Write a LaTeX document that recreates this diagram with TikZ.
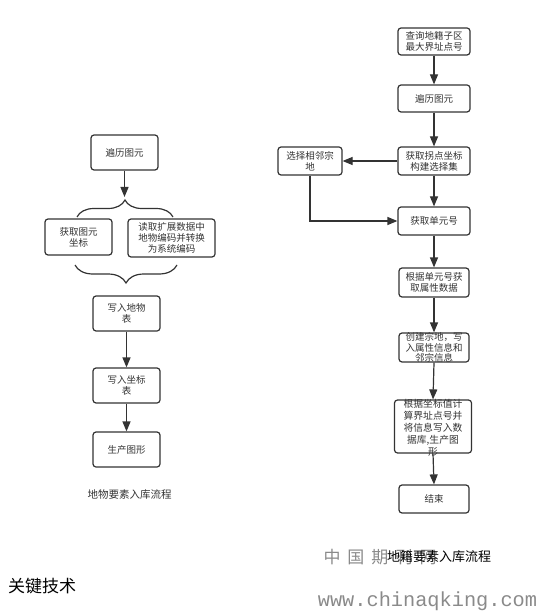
\documentclass[tikz,border=0pt]{standalone}
\usepackage{fontspec}
\setmainfont{Noto Sans CJK SC}
\newfontfamily\monofam{Liberation Mono}
\usetikzlibrary{arrows.meta,decorations.pathreplacing}
\definecolor{ln}{HTML}{333333}
\definecolor{wm}{HTML}{8A8A8A}
\begin{document}
\begin{tikzpicture}[x=1pt,y=-1pt,
  box/.style={draw=ln,line width=1.2pt,rounded corners=3pt,align=center,inner sep=1pt,
    font=\fontsize{9.5}{11}\selectfont,text=ln},
  ovtext/.style={align=center,text width=62pt,text=ln,inner sep=0pt},
  arr/.style={draw=ln,line width=1.2pt,-{Triangle[length=10pt,width=8pt]}},
  brc/.style={draw=ln,line width=1.2pt,decorate,decoration={brace,amplitude=#1}},
]
\useasboundingbox (0,0) rectangle (546,612);
% left column
\node[box,minimum width=67pt,minimum height=35pt] (L1) at (124.5,152.5) {遍历图元};
\node[box,minimum width=67pt,minimum height=36pt] (L2a) at (78.5,237) {获取图元\\坐标};
\node[box,minimum width=87pt,minimum height=38pt] (L2b) at (171.5,238) {读取扩展数据中\\地物编码并转换\\为系统编码};
\node[box,minimum width=67pt,minimum height=35pt] (L3) at (126.5,313.5) {写入地物\\表};
\node[box,minimum width=67pt,minimum height=35pt] (L4) at (126.5,385.5) {写入坐标\\表};
\node[box,minimum width=67pt,minimum height=35pt] (L5) at (126.5,449.5) {生产图形};
\node[font=\fontsize{10.5}{12}\selectfont,text=ln] (capL) at (129.5,495) {地物要素入库流程};
\coordinate (bt) at (124.5,197);
\draw[arr] (L1.south) -- (bt);
\draw[brc=17pt] (77,217) -- (173,217);
\draw[brc=18pt] (177,265) -- (75,265);
\draw[arr] (L3.south) -- (L4.north);
\draw[arr] (L4.south) -- (L5.north);
% right column
\node[box,minimum width=72pt,minimum height=27pt] (R1) at (434,41.5) {查询地籍子区\\最大界址点号};
\node[box,minimum width=72pt,minimum height=27pt] (R2) at (434,98.5) {遍历图元};
\node[box,minimum width=72pt,minimum height=28pt] (R3) at (434,161) {获取拐点坐标\\构建选择集};
\node[box,minimum width=64pt,minimum height=28pt] (RS) at (310,161) {选择相邻宗\\地};
\node[box,minimum width=72pt,minimum height=28pt] (R4) at (434,221) {获取单元号};
\node[box,minimum width=70pt,minimum height=29pt] (R5) at (434,282.5) {根据单元号获\\取属性数据};
\node[box,minimum width=70pt,minimum height=29pt] (R6) at (434,347.5) {};
\node[ovtext,font=\fontsize{9.5}{10.5}\selectfont] (R6t) at (R6) {创建宗地，写\\入属性信息和\\邻宗信息};
\node[box,minimum width=77pt,minimum height=53pt] (R7) at (433,426.5) {};
\node[ovtext,font=\fontsize{9.8}{12}\selectfont] (R7t) at (433,427.5) {根据坐标值计\\算界址点号并\\将信息写入数\\据库,生产图\\形};
\node[box,minimum width=70pt,minimum height=28pt] (R8) at (434,499) {结束};
\draw[arr] (R1.south) -- (R2.north);
\draw[arr] (R2.south) -- (R3.north);
\draw[arr] (R3.west) -- (RS.east);
\draw[arr] (R3.south) -- (R4.north);
\draw[arr] (RS.south) |- (R4.west);
\draw[arr] (R4.south) -- (R5.north);
\draw[arr] (R5.south) -- (R6.north);
\draw[arr] (R6.south) -- (R7.north);
\draw[arr] (R7.south) -- (R8.north);
% bottom texts
\node[text=wm,font=\fontsize{17}{18}\selectfont] (wm1) at (380,557) {中\hspace{7pt}国\hspace{7pt}期\hspace{7pt}刊\hspace{7pt}网};
\node[font=\fontsize{13}{14}\selectfont,text=black] (capR) at (439,557) {地籍要素入库流程};
\node[text=wm,font=\monofam\fontsize{20.3}{22}\selectfont,inner sep=0pt] (wm2) at (427.5,601) {www.chinaqking.com};
\node[font=\fontsize{17}{18}\selectfont,text=black,anchor=west,inner sep=0pt] (kw) at (8,586) {关键技术};
\end{tikzpicture}
\end{document}
